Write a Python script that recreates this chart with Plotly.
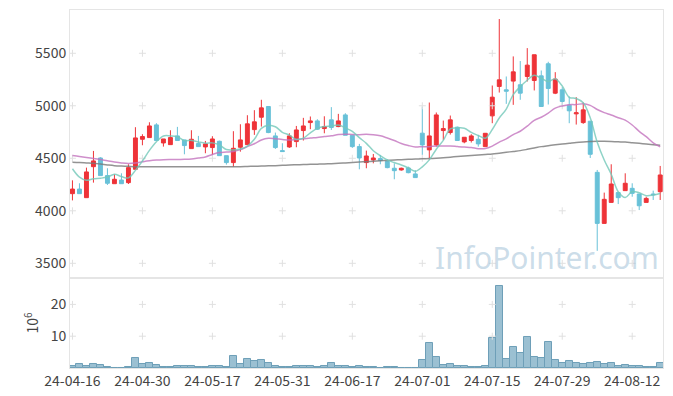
import pandas as pd
import plotly.graph_objects as go
from plotly.subplots import make_subplots

# ---------------- data ----------------
holidays = ["2024-05-01", "2024-05-06", "2024-05-15", "2024-06-06", "2024-08-15"]
dates = pd.bdate_range("2024-04-16", "2024-08-19", freq="C", holidays=holidays)

open_ = [4163, 4207, 4125, 4420, 4503, 4335, 4258, 4293, 4268, 4395,
         4681, 4697, 4818, 4646, 4630, 4713, 4675, 4592, 4640, 4608,
         4602, 4662, 4525, 4459, 4605, 4630, 4773, 4891, 4993, 4713,
         4573, 4608, 4659, 4764, 4840, 4856, 4783, 4866, 4802, 4913,
         4719, 4611, 4459, 4484, 4497, 4471, 4405, 4389, 4408, 4351,
         4739, 4580, 4627, 4764, 4745, 4796, 4656, 4669, 4681, 4611,
         4904, 5184, 5152, 5235, 5200, 5279, 5241, 5285, 5400, 5120,
         5152, 5006, 4923, 4840, 4853, 4366, 3880, 4080, 4173, 4192,
         4214, 4160, 4080, 4160, 4182]
high = [4290, 4262, 4411, 4570, 4510, 4405, 4347, 4357, 4443, 4796,
        4729, 4843, 4834, 4684, 4767, 4799, 4675, 4767, 4713, 4665,
        4710, 4668, 4525, 4758, 4824, 4910, 4958, 5057, 4993, 4745,
        4643, 4738, 4808, 4885, 4898, 4872, 4900, 4987, 4923, 4929,
        4719, 4637, 4573, 4541, 4532, 4490, 4452, 4411, 4421, 4386,
        4993, 5031, 4936, 4859, 4907, 4802, 4700, 4729, 4723, 4738,
        5193, 5826, 5279, 5470, 5426, 5549, 5486, 5336, 5419, 5320,
        5177, 5088, 5082, 5031, 4853, 4389, 4173, 4443, 4173, 4357,
        4262, 4160, 4134, 4192, 4427]
low = [4099, 4163, 4125, 4268, 4335, 4246, 4258, 4258, 4255, 4395,
       4624, 4697, 4669, 4611, 4630, 4669, 4538, 4592, 4611, 4548,
       4532, 4525, 4440, 4420, 4563, 4630, 4723, 4802, 4739, 4589,
       4564, 4599, 4605, 4669, 4777, 4770, 4738, 4770, 4796, 4719,
       4599, 4395, 4405, 4452, 4443, 4405, 4300, 4382, 4357, 4316,
       4532, 4484, 4611, 4675, 4726, 4669, 4643, 4650, 4611, 4611,
       4834, 5126, 5018, 5009, 5057, 5231, 5146, 4993, 5012, 5111,
       4987, 4834, 4821, 4828, 4503, 3619, 3880, 4080, 4064, 4192,
       4134, 4007, 4080, 4103, 4103]
close = [4207, 4163, 4370, 4475, 4335, 4262, 4300, 4258, 4411, 4694,
         4707, 4808, 4669, 4684, 4697, 4669, 4621, 4681, 4611, 4637,
         4684, 4525, 4459, 4595, 4675, 4828, 4847, 4980, 4745, 4602,
         4564, 4713, 4770, 4808, 4856, 4777, 4802, 4793, 4856, 4719,
         4611, 4503, 4522, 4503, 4478, 4411, 4382, 4405, 4363, 4316,
         4627, 4713, 4913, 4783, 4866, 4669, 4700, 4713, 4637, 4738,
         5082, 5247, 5139, 5323, 5120, 5387, 5486, 4993, 5165, 5254,
         5041, 4952, 4933, 4961, 4538, 3880, 4109, 4255, 4125, 4262,
         4166, 4048, 4118, 4153, 4341]
volume_m = [0.74, 1.37, 0.74, 1.37, 0.84, 0.4, 0.08, 0.08, 0.4, 3.3,
            1.4, 1.7, 1.05, 0.4, 0.4, 0.7, 0.7, 0.7, 0.4, 0.4,
            0.7, 0.7, 0.4, 3.9, 1.4, 2.9, 2.1, 2.6, 1.7, 0.7,
            0.4, 0.4, 0.7, 0.7, 0.7, 0.4, 0.7, 1.7, 0.7, 0.7,
            0.4, 0.7, 0.4, 0.4, 0.1, 0.4, 0.4, 0.05, 0.05, 0.05,
            2.6, 8.0, 3.6, 1.05, 1.4, 0.7, 0.7, 0.4, 0.4, 0.7,
            9.3, 25.8, 2.9, 6.7, 4.8, 9.9, 3.6, 3.3, 8.3, 2.6,
            1.7, 2.3, 1.7, 1.4, 1.7, 2.0, 1.4, 1.7, 0.7, 1.05,
            0.7, 0.7, 0.4, 0.4, 1.7]

# moving-average values read from the chart where history is not shown
ma5_head = [4400, 4320, 4290, 4305]
ma20_head = [4526, 4516, 4507, 4498, 4488, 4476, 4465, 4456, 4451, 4455,
             4466, 4476, 4483, 4487, 4488, 4488, 4490, 4494, 4503]
ma60 = [4463, 4460, 4456, 4452, 4445, 4437, 4430, 4426, 4423, 4420,
        4420, 4420, 4420, 4420, 4420, 4420, 4420, 4420, 4420, 4420,
        4420, 4420, 4420, 4420, 4420, 4422, 4424, 4426, 4428, 4430,
        4433, 4436, 4438, 4440, 4442, 4444, 4446, 4449, 4452, 4456,
        4460, 4464, 4468, 4472, 4476, 4480, 4484, 4487, 4490, 4492,
        4495, 4497, 4501, 4506, 4511, 4516, 4521, 4526, 4531, 4536,
        4541, 4549, 4557, 4565, 4573, 4585, 4598, 4611, 4620, 4628,
        4636, 4643, 4650, 4655, 4659, 4662, 4662, 4660, 4657, 4654,
        4648, 4642, 4636, 4630, 4624]

price_ticks = [3500, 4000, 4500, 5000, 5500]
volume_ticks = [10, 20]
tick_step = 10

# ---------------- derived ----------------
x = list(range(len(close)))
cs = pd.Series(close, dtype=float)
ma5 = ma5_head + cs.rolling(5).mean().iloc[len(ma5_head):].round(1).tolist()
ma20 = ma20_head + cs.rolling(20).mean().iloc[len(ma20_head):].round(1).tolist()
tickvals = x[::tick_step]
ticktext = [d.strftime("%y-%m-%d") for d in dates[::tick_step]]

RED = "#ee3338"
BLUE = "#68c1d8"
FONT = "Noto Sans CJK KR, Noto Sans, sans-serif"
CROSS = "#e0e0e0"

fig = make_subplots(rows=2, cols=1, shared_xaxes=True, vertical_spacing=0,
                    row_heights=[0.7486, 0.2514])

# grid crosses
gx = [v for v in tickvals for _ in price_ticks]
gy = [p for _ in tickvals for p in price_ticks]
fig.add_trace(go.Scatter(x=gx, y=gy, mode="markers", hoverinfo="skip",
                         marker=dict(symbol="cross-thin", size=5,
                                     line=dict(color=CROSS, width=1))),
              row=1, col=1)
gx2 = [v for v in tickvals for _ in volume_ticks]
gy2 = [p for _ in tickvals for p in volume_ticks]
fig.add_trace(go.Scatter(x=gx2, y=gy2, mode="markers", hoverinfo="skip",
                         marker=dict(symbol="cross-thin", size=5,
                                     line=dict(color=CROSS, width=1))),
              row=2, col=1)

fig.add_trace(go.Candlestick(
    x=x, open=open_, high=high, low=low, close=close,
    increasing=dict(line=dict(color=RED, width=1), fillcolor=RED),
    decreasing=dict(line=dict(color=BLUE, width=1), fillcolor=BLUE),
    whiskerwidth=0, hoverinfo="skip"), row=1, col=1)

fig.add_trace(go.Scatter(x=x, y=ma60, mode="lines",
                         line=dict(color="rgba(120,120,120,0.8)", width=1.5, shape="spline")),
              row=1, col=1)
fig.add_trace(go.Scatter(x=x, y=ma20, mode="lines",
                         line=dict(color="rgba(195,115,190,0.8)", width=1.5, shape="spline")),
              row=1, col=1)
fig.add_trace(go.Scatter(x=x, y=ma5, mode="lines",
                         line=dict(color="rgba(115,200,185,0.8)", width=1.5, shape="spline")),
              row=1, col=1)

fig.add_trace(go.Bar(x=x, y=volume_m, marker=dict(color="#9bc0d2",
                                                  line=dict(color="#6e9fb8", width=1)),
                     hoverinfo="skip"), row=2, col=1)

fig.add_annotation(text="InfoPointer.com", xref="paper", yref="paper",
                   x=0.805, y=0.31, xanchor="center", yanchor="middle",
                   showarrow=False,
                   font=dict(family="Noto Sans, sans-serif", size=30,
                             color="rgba(160,192,214,0.55)"))

axis_common = dict(showgrid=False, zeroline=False, showline=True, mirror=True,
                   linecolor="#e5e5e5", linewidth=1, ticks="", automargin=False,
                   tickfont=dict(family=FONT, size=14, color="#444"))

fig.update_xaxes(**axis_common, range=[-0.35, 84.4], tickvals=tickvals,
                 ticktext=ticktext, rangeslider_visible=False)
fig.update_xaxes(showticklabels=False, row=1, col=1)
fig.update_yaxes(**axis_common)
fig.update_yaxes(range=[3360, 5912], tickvals=price_ticks, row=1, col=1)
fig.update_yaxes(range=[0, 28.3], tickvals=volume_ticks, row=2, col=1,
                 title=dict(text="10<sup>6</sup>", standoff=8,
                            font=dict(family=FONT, size=14, color="#444")))

fig.update_layout(
    width=673, height=396,
    margin=dict(l=70, r=10, t=10, b=28),
    paper_bgcolor="white", plot_bgcolor="white",
    showlegend=False, bargap=0, boxgap=0.2,
    font=dict(family=FONT, color="#444"),
)

fig.write_html("out.html", config={"displayModeBar": False},
               post_script="document.body.style.margin='0';document.body.style.overflow='hidden';")
